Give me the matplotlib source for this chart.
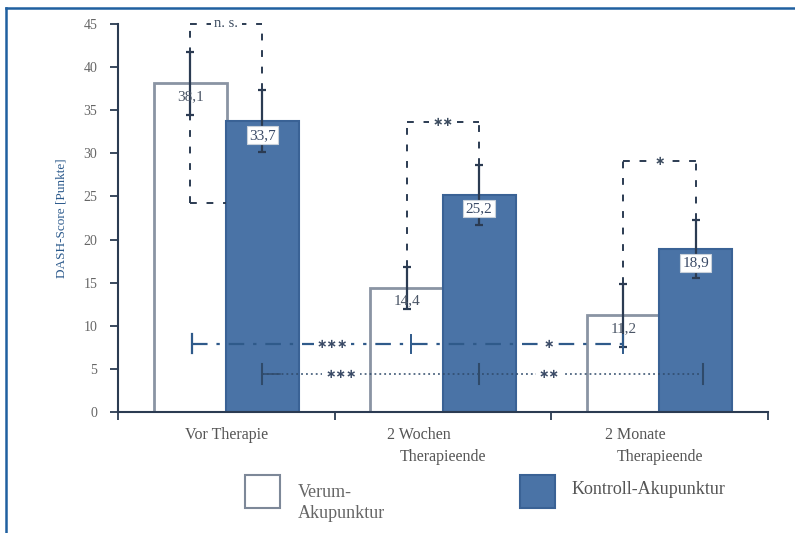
import matplotlib
matplotlib.use("Agg")
import matplotlib.pyplot as plt
from matplotlib.patches import Rectangle
from matplotlib.lines import Line2D
import numpy as np

# --- data -------------------------------------------------------------
groups_line1 = ["Vor Therapie", "2 Wochen", "2 Monate"]
groups_line2 = ["", "Therapieende", "Therapieende"]
verum = [38.1, 14.4, 11.2]
kontroll = [33.7, 25.2, 18.9]
verum_err = [3.7, 2.4, 3.7]
kontroll_err = [3.6, 3.5, 3.4]
verum_text = ["38,1", "14,4", "11,2"]
kontroll_text = ["33,7", "25,2", "18,9"]
yticks = [0, 5, 10, 15, 20, 25, 30, 35, 40, 45]

# between-group comparisons at each time point
pair_labels = ["n. s.", "**", "*"]
pair_tops = [45.0, 33.6, 29.1]
pair_left_bottom = [24.2, 16.8, 14.9]

# comparisons over time within each group
verum_trend_level = 7.9
verum_trend_labels = ["***", "*"]
kontroll_trend_level = 4.4
kontroll_trend_labels = ["***", "**"]

legend_labels = ["Verum-\nAkupunktur", "Kontroll-Akupunktur"]

# --- style ------------------------------------------------------------
plt.rcParams["font.family"] = ["Liberation Serif", "DejaVu Serif"]
blue = "#4a73a6"
blue_edge = "#3a6295"
white_edge = "#8a94a3"
dark = "#2b3b52"
line_blue = "#2f5a8a"
text_grey = "#555555"
star_font = dict(family=["DejaVu Sans"], fontweight="bold")


def stars(s):
    # centred asterisk glyphs sit on the line like in print
    return s.replace("*", "\u2217")


fig = plt.figure(figsize=(7.95, 5.33), dpi=100)
ax = fig.add_axes([0.1484, 0.227, 0.8176, 0.728])

x = np.arange(len(verum))
off = 0.167
width = 0.336

ax.bar(x - off, verum, width, color="white", edgecolor=white_edge, linewidth=2, zorder=2)
ax.bar(x + off, kontroll, width, color=blue, edgecolor=blue_edge, linewidth=1.5, zorder=2)

ax.errorbar(x - off, verum, yerr=verum_err, fmt="none", ecolor=dark, elinewidth=1.6,
            capsize=3, capthick=1.6, zorder=3)
ax.errorbar(x + off, kontroll, yerr=kontroll_err, fmt="none", ecolor=dark, elinewidth=1.6,
            capsize=3, capthick=1.6, zorder=3)

# value labels
for i in range(len(verum)):
    ax.text(x[i] - off, verum[i] - 1.5, verum_text[i], ha="center", va="center",
            fontsize=11, color="#4a5566", zorder=5)
    ax.text(x[i] + off, kontroll[i] - 1.6, kontroll_text[i], ha="center", va="center",
            fontsize=11, color="#3a4a66", zorder=5,
            bbox=dict(boxstyle="square,pad=0.15", fc="white", ec="#c8d0da", lw=0.8))

# dashed brackets between the two groups
dash = (0, (3.5, 5))
for i in range(len(verum)):
    xl = x[i] - off
    xr = x[i] + off
    top = pair_tops[i]
    ax.plot([xl, xl], [pair_left_bottom[i], top], color=dark, lw=1.4, ls=dash,
            zorder=4, clip_on=False)
    ax.plot([xr, xr], [kontroll[i] + kontroll_err[i], top], color=dark, lw=1.4, ls=dash,
            zorder=4, clip_on=False)
    ax.plot([xl, xr], [top, top], color=dark, lw=1.4, ls=dash, zorder=4, clip_on=False)
    lab = pair_labels[i]
    kw = star_font if "*" in lab else {}
    ax.text(x[i], top, stars(lab), ha="center", va="center", fontsize=10.5 if not kw else 9,
            color="#3a4a5e", zorder=6, clip_on=False,
            bbox=dict(boxstyle="square,pad=0.25", fc="white", ec="none"), **kw)
ax.plot([x[0] - off, x[0]], [pair_left_bottom[0]] * 2, color=dark, lw=1.4, ls=dash, zorder=4)

# trend line for verum (dash-dot)
vx0, vx1 = x[0] - off + 0.01, x[2] - off
ax.plot([vx0, vx1], [verum_trend_level] * 2, color=line_blue, lw=1.6,
        ls=(0, (7, 4, 1.5, 4)), zorder=4)
ax.plot([vx0, vx0], [verum_trend_level - 1.1, verum_trend_level + 1.1], color=line_blue, lw=1.6, zorder=4)
for xm in [x[1] - off + 0.02, x[2] - off]:
    ax.plot([xm, xm], [verum_trend_level - 1.0, verum_trend_level + 1.0], color=line_blue, lw=1.4, zorder=4)
for xp, lab in zip([0.49, 1.49], verum_trend_labels):
    ax.text(xp, verum_trend_level - 0.1, stars(lab), ha="center", va="center", fontsize=9,
            color="#3a4a66", zorder=6,
            bbox=dict(boxstyle="square,pad=0.25", fc="white", ec="none"), **star_font)

# trend line for kontroll (dotted)
kx0, kx1 = x[0] + off, x[2] + off + 0.035
ax.plot([kx0, kx1], [kontroll_trend_level] * 2, color="#2f4a6a", lw=1.1,
        ls=(0, (1.2, 2)), zorder=4)
for xm in [kx0, x[1] + off, kx1]:
    ax.plot([xm, xm], [kontroll_trend_level - 1.2, kontroll_trend_level + 1.2], color="#2f4a6a",
            lw=1.5, zorder=4)
ax.plot([kx0, kx0 + 0.08], [kontroll_trend_level] * 2, color="#2f4a6a", lw=1.1, zorder=4)
for xp, lab in zip([0.53, 1.49], kontroll_trend_labels):
    ax.text(xp, kontroll_trend_level - 0.1, stars(lab), ha="center", va="center", fontsize=9,
            color="#3a4a66", zorder=6,
            bbox=dict(boxstyle="square,pad=0.25", fc="white", ec="none"), **star_font)

# axes
ax.set_xlim(-0.5, 2.5)
ax.set_ylim(0, 45)
ax.set_yticks(yticks)
ax.set_yticklabels([str(v) for v in yticks], fontsize=10, color="#666666")
ax.set_xticks([-0.5, 0.5, 1.5, 2.5])
ax.set_xticklabels([])
ax.tick_params(axis="y", direction="out", length=6, width=1.3, color=dark, pad=9)
ax.tick_params(axis="x", direction="out", length=6, width=1.3, color=dark)
for s in ["top", "right"]:
    ax.spines[s].set_visible(False)
for s in ["left", "bottom"]:
    ax.spines[s].set_color(dark)
    ax.spines[s].set_linewidth(1.5)
ax.set_ylabel("DASH-Score [Punkte]", fontsize=9.5, color="#2c5a8c")
ax.yaxis.set_label_coords(-0.077, 0.5)

# category labels
tr = ax.get_xaxis_transform()
for i in range(len(verum)):
    if groups_line2[i]:
        ax.text(x[i] - 0.11, -0.059, groups_line1[i], transform=tr, ha="center", va="center",
                fontsize=11.5, color=text_grey)
        ax.text(x[i], -0.116, groups_line2[i], transform=tr, ha="center", va="center",
                fontsize=11.5, color=text_grey)
    else:
        ax.text(x[i], -0.059, groups_line1[i], transform=tr, ha="center", va="center",
                fontsize=11.5, color=text_grey)

# legend
fig.patches.append(Rectangle((0.308, 0.047), 0.044, 0.062, transform=fig.transFigure,
                             fc="white", ec="#7d8898", lw=1.5))
fig.patches.append(Rectangle((0.654, 0.047), 0.044, 0.062, transform=fig.transFigure,
                             fc=blue, ec=blue_edge, lw=1.5))
fig.text(0.375, 0.056, legend_labels[0], ha="left", va="center", fontsize=13,
         color="#666666", linespacing=1.3)
fig.text(0.7195, 0.081, legend_labels[1], ha="left", va="center", fontsize=13, color="#555555")

# frame
fig.lines.append(Line2D([0.0075, 1.0], [0.985, 0.985], transform=fig.transFigure,
                        color="#2060a0", lw=1.8))
fig.lines.append(Line2D([0.0075, 0.0075], [0.0, 0.985], transform=fig.transFigure,
                        color="#2060a0", lw=1.8))

fig.savefig("out.png", dpi=100)
